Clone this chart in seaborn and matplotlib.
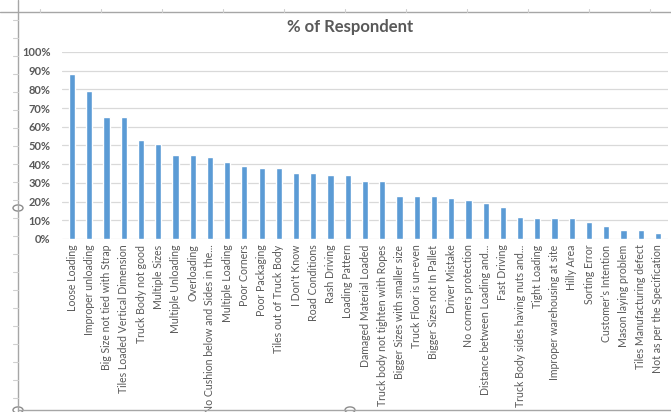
import matplotlib
matplotlib.use("Agg")
import matplotlib.pyplot as plt
from matplotlib.ticker import PercentFormatter
from matplotlib.lines import Line2D
from matplotlib.patches import Circle
import seaborn as sns
import pandas as pd

causes = [
    "Loose Loading", "Improper unloading", "Big Size not tied with Strap",
    "Tiles Loaded Vertical Dimension", "Truck Body not good", "Multiple Sizes",
    "Multiple Unloading", "Overloading", "No Cushion below and Sides in the...",
    "Multiple Loading", "Poor Corners", "Poor Packaging", "Tiles out of Truck Body",
    "I Don't Know", "Road Conditions", "Rash Driving", "Loading Pattern",
    "Damaged Material Loaded", "Truck body not tighten with Ropes",
    "Bigger Sizes with smaller size", "Truck Floor is un-even",
    "Bigger Sizes not In Pallet", "Driver Mistake", "No corners protection",
    "Distance between Loading and...", "Fast Driving",
    "Truck Body sides having nuts and...", "Tight Loading",
    "Improper warehousing at site", "Hilly Area", "Sorting Error",
    "Customer\u2019s Intention", "Mason laying problem",
    "Tiles Manufacturing defect", "Not as per the Specification",
]
pct = [88, 79, 65, 65, 53, 51, 45, 45, 44, 41, 39, 38, 38, 35, 35, 34, 34,
       31, 31, 23, 23, 23, 22, 21, 19, 17, 12, 11, 11, 11, 9, 7, 5, 5, 3]

df = pd.DataFrame({"cause": causes, "share": [p / 100 for p in pct]})

sns.set_style("white")
plt.rcParams['font.family'] = ['Lato', 'DejaVu Sans']

grey = "#595959"
fig = plt.figure(figsize=(6.71, 4.12), dpi=100)
ax = fig.add_axes([0.092, 0.42, 0.904, 0.454])

sns.barplot(data=df, x="cause", y="share", color="#5B9BD5", width=0.36,
            saturation=1, ax=ax, zorder=3)

ax.set_ylim(0, 1.0)
ax.set_xlim(-0.6, len(causes) - 0.4)
ax.yaxis.set_major_locator(plt.MultipleLocator(0.1))
ax.yaxis.set_major_formatter(PercentFormatter(1.0, decimals=0))
ax.grid(axis="y", color="#D9D9D9", lw=0.9, zorder=0)
ax.set_axisbelow(True)
for s in ax.spines.values():
    s.set_visible(False)
ax.tick_params(axis="both", length=0)
ax.tick_params(axis="y", labelsize=8, labelcolor=grey, pad=8)
ax.tick_params(axis="x", labelsize=7.6, labelcolor=grey, pad=4)
plt.setp(ax.get_xticklabels(), rotation=90)
for t in ax.get_yticklabels():
    t.set_fontweight("bold")
ax.set_xlabel("")
ax.set_ylabel("")
fig.text(0.522, 0.935, "% of Respondent", ha="center", va="center",
         fontsize=12, fontweight="bold", color=grey)

# excel sheet frame around the chart
W, H = 671, 412
def fx(x): return x / W
def fy(y): return 1 - y / H
frame = "#A6A6A6"
fig.add_artist(Line2D([0, 1], [fy(12), fy(12)], color=frame, lw=1))
fig.add_artist(Line2D([fx(18), fx(18)], [0, 1], color=frame, lw=1))
fig.add_artist(Line2D([fx(18), 1], [fy(410), fy(410)], color=frame, lw=1))
for yy in range(20, 410, 18):
    fig.add_artist(Line2D([fx(13), fx(18)], [fy(yy), fy(yy)], color="#D0D0D0", lw=0.8))
for xx in range(40, 671, 61):
    fig.add_artist(Line2D([fx(xx), fx(xx)], [fy(9), fy(12)], color="#D0D0D0", lw=0.8))
for cx, cy in [(18, 208), (18, 410), (350, 410)]:
    fig.add_artist(Circle((fx(cx), fy(cy)), 5 / W, transform=fig.transFigure,
                          facecolor="white", edgecolor="#8C8C8C", lw=1))

fig.savefig("out.png", dpi=100)
